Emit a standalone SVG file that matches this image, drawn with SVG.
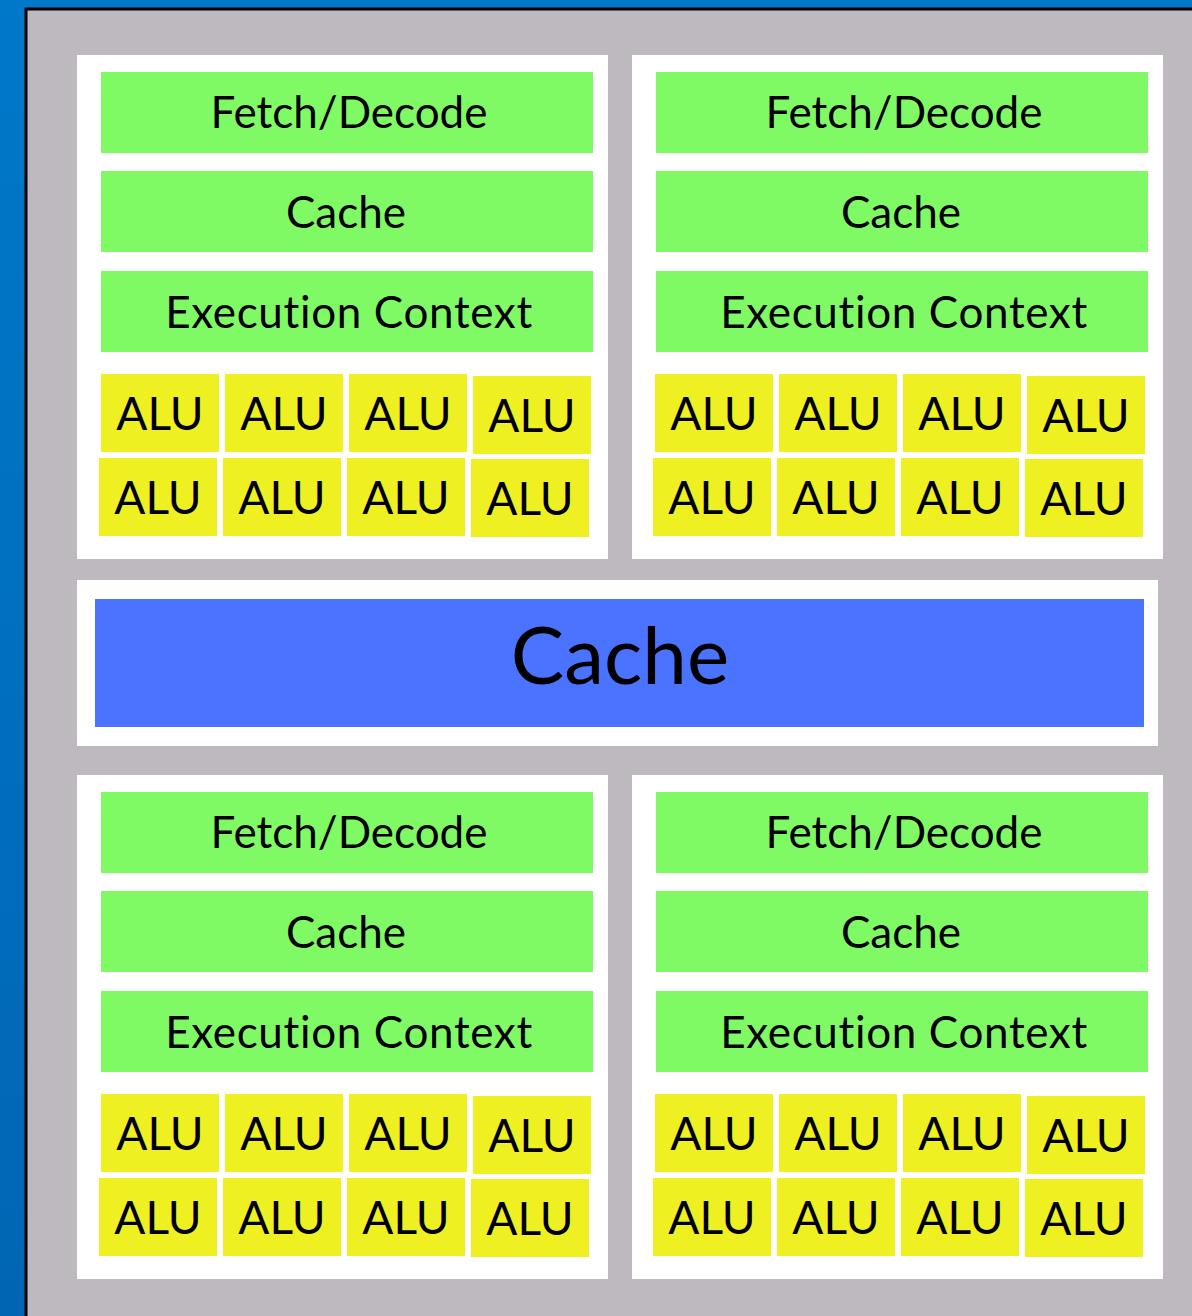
<svg xmlns="http://www.w3.org/2000/svg" width="1192" height="1316" viewBox="0 0 1192 1316">
<defs>
<linearGradient id="bg" x1="0" y1="0" x2="0" y2="1">
<stop offset="0" stop-color="#0078C9"/>
<stop offset="1" stop-color="#0066B4"/>
</linearGradient>
</defs>
<style>
.core{fill:#ffffff}
.bar{fill:#80FA64}
.alu{fill:#EFF022}
.t{font-family:Lato,"Liberation Sans",sans-serif;fill:#000;text-anchor:middle}
.lbl{font-size:44px}
.ec{letter-spacing:0.65px}
.al{font-size:46px}
.big{font-size:80px}
</style>
<rect x="0" y="0" width="1192" height="1316" fill="url(#bg)"/>
<rect x="26" y="9" width="1180" height="1320" fill="#BEB9BE" stroke="#000" stroke-width="3"/>

<g id="core-top-left">
<rect class="core" x="77" y="55" width="531" height="504"/>
<rect class="bar" x="101" y="72" width="492" height="81"/>
<text class="t lbl" x="349" y="128">Fetch/Decode</text>
<rect class="bar" x="101" y="171" width="492" height="81"/>
<text class="t lbl" x="346" y="228">Cache</text>
<rect class="bar" x="101" y="271" width="492" height="81"/>
<text class="t lbl ec" x="349" y="328">Execution Context</text>
<rect class="alu" x="101" y="374" width="118" height="78"/><text class="t al" x="160" y="430">ALU</text>
<rect class="alu" x="225" y="374" width="118" height="78"/><text class="t al" x="284" y="430">ALU</text>
<rect class="alu" x="349" y="374" width="118" height="78"/><text class="t al" x="408" y="430">ALU</text>
<rect class="alu" x="473" y="376" width="118" height="78"/><text class="t al" x="532" y="432">ALU</text>
<rect class="alu" x="99" y="458" width="118" height="78"/><text class="t al" x="158" y="514">ALU</text>
<rect class="alu" x="223" y="458" width="118" height="78"/><text class="t al" x="282" y="514">ALU</text>
<rect class="alu" x="347" y="458" width="118" height="78"/><text class="t al" x="406" y="514">ALU</text>
<rect class="alu" x="471" y="459" width="118" height="78"/><text class="t al" x="530" y="515">ALU</text>
</g>

<g id="core-top-right">
<rect class="core" x="632" y="55" width="531" height="504"/>
<rect class="bar" x="656" y="72" width="492" height="81"/>
<text class="t lbl" x="904" y="128">Fetch/Decode</text>
<rect class="bar" x="656" y="171" width="492" height="81"/>
<text class="t lbl" x="901" y="228">Cache</text>
<rect class="bar" x="656" y="271" width="492" height="81"/>
<text class="t lbl ec" x="904" y="328">Execution Context</text>
<rect class="alu" x="655" y="374" width="118" height="78"/><text class="t al" x="714" y="430">ALU</text>
<rect class="alu" x="779" y="374" width="118" height="78"/><text class="t al" x="838" y="430">ALU</text>
<rect class="alu" x="903" y="374" width="118" height="78"/><text class="t al" x="962" y="430">ALU</text>
<rect class="alu" x="1027" y="376" width="118" height="78"/><text class="t al" x="1086" y="432">ALU</text>
<rect class="alu" x="653" y="458" width="118" height="78"/><text class="t al" x="712" y="514">ALU</text>
<rect class="alu" x="777" y="458" width="118" height="78"/><text class="t al" x="836" y="514">ALU</text>
<rect class="alu" x="901" y="458" width="118" height="78"/><text class="t al" x="960" y="514">ALU</text>
<rect class="alu" x="1025" y="459" width="118" height="78"/><text class="t al" x="1084" y="515">ALU</text>
</g>

<g id="shared-cache">
<rect class="core" x="77" y="580" width="1081" height="166"/>
<rect x="95" y="599" width="1049" height="128" fill="#4A73FF"/>
<text class="t big" x="620" y="684">Cache</text>
</g>

<g id="core-bottom-left">
<rect class="core" x="77" y="775" width="531" height="504"/>
<rect class="bar" x="101" y="792" width="492" height="81"/>
<text class="t lbl" x="349" y="848">Fetch/Decode</text>
<rect class="bar" x="101" y="891" width="492" height="81"/>
<text class="t lbl" x="346" y="948">Cache</text>
<rect class="bar" x="101" y="991" width="492" height="81"/>
<text class="t lbl ec" x="349" y="1048">Execution Context</text>
<rect class="alu" x="101" y="1094" width="118" height="78"/><text class="t al" x="160" y="1150">ALU</text>
<rect class="alu" x="225" y="1094" width="118" height="78"/><text class="t al" x="284" y="1150">ALU</text>
<rect class="alu" x="349" y="1094" width="118" height="78"/><text class="t al" x="408" y="1150">ALU</text>
<rect class="alu" x="473" y="1096" width="118" height="78"/><text class="t al" x="532" y="1152">ALU</text>
<rect class="alu" x="99" y="1178" width="118" height="78"/><text class="t al" x="158" y="1234">ALU</text>
<rect class="alu" x="223" y="1178" width="118" height="78"/><text class="t al" x="282" y="1234">ALU</text>
<rect class="alu" x="347" y="1178" width="118" height="78"/><text class="t al" x="406" y="1234">ALU</text>
<rect class="alu" x="471" y="1179" width="118" height="78"/><text class="t al" x="530" y="1235">ALU</text>
</g>

<g id="core-bottom-right">
<rect class="core" x="632" y="775" width="531" height="504"/>
<rect class="bar" x="656" y="792" width="492" height="81"/>
<text class="t lbl" x="904" y="848">Fetch/Decode</text>
<rect class="bar" x="656" y="891" width="492" height="81"/>
<text class="t lbl" x="901" y="948">Cache</text>
<rect class="bar" x="656" y="991" width="492" height="81"/>
<text class="t lbl ec" x="904" y="1048">Execution Context</text>
<rect class="alu" x="655" y="1094" width="118" height="78"/><text class="t al" x="714" y="1150">ALU</text>
<rect class="alu" x="779" y="1094" width="118" height="78"/><text class="t al" x="838" y="1150">ALU</text>
<rect class="alu" x="903" y="1094" width="118" height="78"/><text class="t al" x="962" y="1150">ALU</text>
<rect class="alu" x="1027" y="1096" width="118" height="78"/><text class="t al" x="1086" y="1152">ALU</text>
<rect class="alu" x="653" y="1178" width="118" height="78"/><text class="t al" x="712" y="1234">ALU</text>
<rect class="alu" x="777" y="1178" width="118" height="78"/><text class="t al" x="836" y="1234">ALU</text>
<rect class="alu" x="901" y="1178" width="118" height="78"/><text class="t al" x="960" y="1234">ALU</text>
<rect class="alu" x="1025" y="1179" width="118" height="78"/><text class="t al" x="1084" y="1235">ALU</text>
</g>

<g id="connectors"/>
</svg>
